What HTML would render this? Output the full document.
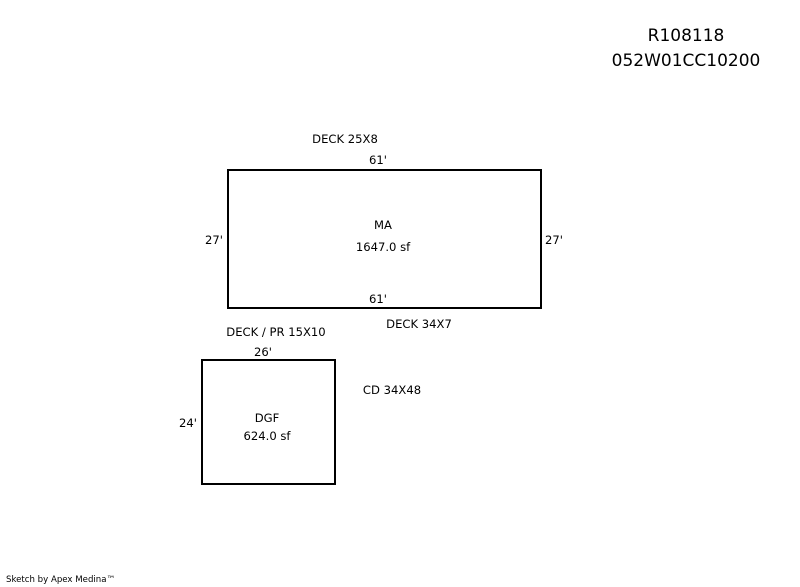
<!DOCTYPE html>
<html><head><style>
html,body{margin:0;padding:0;background:#fff;}
svg{display:block;}
text{font-family:"DejaVu Sans","Liberation Sans",sans-serif;font-size:11.6px;fill:#000;}
</style></head><body>
<svg width="800" height="587" viewBox="0 0 800 587" xmlns="http://www.w3.org/2000/svg">
<text x="686" y="41" text-anchor="middle" style="font-size:17px">R108118</text>
<text x="686" y="66" text-anchor="middle" style="font-size:17px">052W01CC10200</text>
<rect x="228" y="170" width="313" height="138" fill="none" stroke="#000" stroke-width="2"/>
<rect x="202" y="360" width="133" height="124" fill="none" stroke="#000" stroke-width="2"/>
<text x="345" y="143" text-anchor="middle">DECK 25X8</text>
<text x="378" y="164" text-anchor="middle">61'</text>
<text x="383" y="229" text-anchor="middle">MA</text>
<text x="383" y="251" text-anchor="middle">1647.0 sf</text>
<text x="214" y="244" text-anchor="middle">27'</text>
<text x="554" y="244" text-anchor="middle">27'</text>
<text x="378" y="303" text-anchor="middle">61'</text>
<text x="419" y="328" text-anchor="middle">DECK 34X7</text>
<text x="276" y="336" text-anchor="middle">DECK / PR 15X10</text>
<text x="263" y="356" text-anchor="middle">26'</text>
<text x="392" y="394" text-anchor="middle">CD 34X48</text>
<text x="267" y="422" text-anchor="middle">DGF</text>
<text x="267" y="440" text-anchor="middle">624.0 sf</text>
<text x="188" y="427" text-anchor="middle">24'</text>
<text x="6" y="582" style="font-size:8.6px">Sketch by Apex Medina™</text>
</svg>
</body></html>
